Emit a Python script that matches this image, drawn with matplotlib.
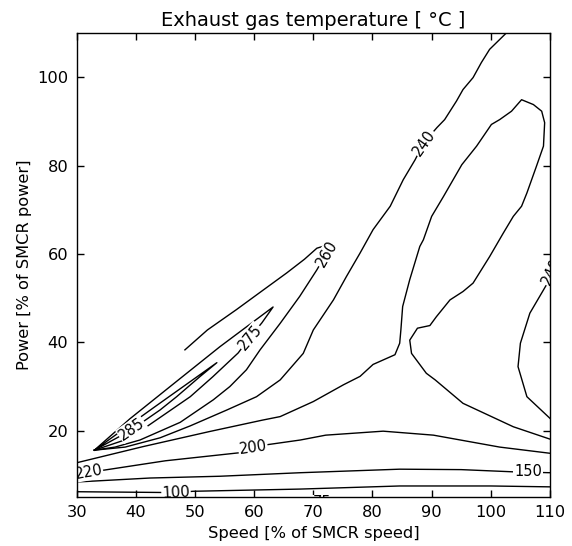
import matplotlib
matplotlib.use('Agg')
import matplotlib.pyplot as plt

# ---- contour lines (speed %, power %) ----
tongue_x = [30, 41.2, 52.4, 61.4, 64.4, 70.0, 75.1, 77.9, 80.1, 83.8, 84.6, 84.8, 85.1, 86.3, 88.0, 88.6,
            90.0, 92.0, 95.1, 97.6, 100.1, 101.5, 103.5, 105.2, 107.2, 108.6, 109.1, 108.9, 107.7, 106.1,
            105.2, 103.8, 102.1, 99.8, 97.0, 95.3, 93.1, 90.8, 89.7, 87.6, 86.3, 86.6, 89.1, 90.6, 95.3,
            103.8, 110]
tongue_y = [12.75, 16.4, 19.8, 22.4, 23.2, 26.6, 30.4, 32.3, 35.0, 37.2, 39.8, 42.8, 48.1, 54.2, 61.7, 63.2,
            68.5, 73.0, 80.2, 84.4, 89.3, 90.4, 92.3, 94.9, 93.8, 92.3, 89.7, 84.4, 79.8, 73.8,
            70.8, 68.5, 64.7, 59.4, 53.4, 51.5, 49.6, 45.8, 43.8, 43.2, 40.5, 37.5, 33.0, 31.5, 26.2,
            20.9, 18.1]

c240_x = [102.7, 99.8, 98.4, 97.0, 95.3, 94.2, 92.2, 90.9, 88.7, 87.2, 85.2, 83.0, 80.1, 77.9, 75.6,
          73.4, 70.0, 68.3, 64.4, 60.4, 55.4, 49.2, 44.1, 38.2, 33.0]
c240_y = [110.1, 106.3, 103.3, 99.9, 97.2, 94.6, 90.4, 88.6, 85.2, 81.3, 76.8, 70.8, 65.5, 60.2, 54.9,
          49.6, 42.8, 37.5, 31.5, 27.7, 24.7, 21.1, 18.4, 16.3, 15.6]

c240r_x = [110.6, 109.4, 106.6, 105.0, 104.6, 106.1, 110]
c240r_y = [58.0, 53.0, 46.6, 39.8, 34.5, 27.7, 22.8]

c260_x = [48.3, 52.1, 57.0, 61.5, 65.5, 68.5, 70.6, 72.3, 72.4, 71.5, 70.6, 67.7, 64.4, 61.0, 58.7, 55.9,
          53.1, 47.5, 40.7, 36.5, 33.0]
c260_y = [38.3, 42.8, 47.4, 51.8, 55.7, 58.8, 61.3, 62.0, 60.5, 58.5, 56.4, 50.4, 44.3, 38.3, 33.8, 30.0,
          27.0, 21.9, 17.9, 16.3, 15.6]

c275_x = [33.0, 39.0, 45.8, 54.2, 63.2, 61.3, 59.3, 57.3, 53.0, 49.2, 44.1, 39.0, 33.0]
c275_y = [15.6, 22.7, 30.0, 39.0, 48.0, 44.4, 41.2, 37.6, 32.2, 27.7, 23.0, 18.3, 15.6]

c285_x = [33.0, 43.3, 53.7, 50.8, 46.9, 44.1, 41.4, 39.3, 37.1, 33.0]
c285_y = [15.6, 25.5, 35.4, 32.2, 27.7, 24.7, 22.2, 20.4, 18.6, 15.6]

c220_x = [30, 32.0, 34.7, 45.0, 57.4, 62.0, 67.8, 72.1, 81.8, 90.3, 101.5, 110]
c220_y = [10.4, 10.6, 11.1, 13.2, 15.0, 16.8, 17.9, 19.0, 19.9, 19.0, 16.3, 14.9]

c150_x = [30, 42.4, 54.2, 67.8, 84.6, 95.0, 103.8, 110]
c150_y = [8.4, 9.3, 9.7, 10.5, 11.3, 11.2, 10.7, 10.5]

c100_x = [30, 46.8, 49.7, 67.8, 84.6, 100.0, 110]
c100_y = [6.2, 6.0, 6.3, 6.8, 7.5, 7.5, 7.3]

# label texts and positions (speed, power, rotation)
lab_text = ['240', '260', '275', '285', '220', '200', '150', '100', '240', '75']
lab_x = [88.7, 72.3, 59.3, 39.3, 32.0, 59.8, 106.3, 46.8, 110.3, 71.4]
lab_y = [85.2, 60.0, 41.2, 20.4, 10.6, 16.1, 10.7, 6.0, 56.0, 3.7]
lab_rot = [55, 60, 50, 35, 10, 8, 0, 3, 65, 0]

fig = plt.figure(figsize=(5.72, 5.46), dpi=100)
ax = fig.add_axes([0.134, 0.0897, 0.8275, 0.8499])

lines = [(tongue_x, tongue_y), (c240_x, c240_y), (c240r_x, c240r_y), (c260_x, c260_y),
         (c275_x, c275_y), (c285_x, c285_y), (c220_x, c220_y), (c150_x, c150_y), (c100_x, c100_y)]
for xs, ys in lines:
    ax.plot(xs, ys, color='black', lw=1.0, solid_joinstyle='round')

for t, x, y, r in zip(lab_text, lab_x, lab_y, lab_rot):
    ax.text(x, y, t, rotation=r, ha='center', va='center', fontsize=10.5,
            rotation_mode='anchor',
            bbox=dict(facecolor='white', edgecolor='none', pad=0.5), clip_on=True, zorder=5)

ax.set_xlim(30, 110)
ax.set_ylim(5, 110)
ax.set_xticks([30, 40, 50, 60, 70, 80, 90, 100, 110])
ax.set_yticks([20, 40, 60, 80, 100])
ax.tick_params(direction='in', top=True, right=True, length=5, width=1, labelsize=11.7, pad=6)
for s in ax.spines.values():
    s.set_linewidth(1.0)
    s.set_zorder(6)
ax.set_title('Exhaust gas temperature [ °C ]', fontsize=14, pad=5)
ax.set_xlabel('Speed [% of SMCR speed]', fontsize=11.7)
ax.set_ylabel('Power [% of SMCR power]', fontsize=11.7)

fig.savefig('out.png', dpi=100)
